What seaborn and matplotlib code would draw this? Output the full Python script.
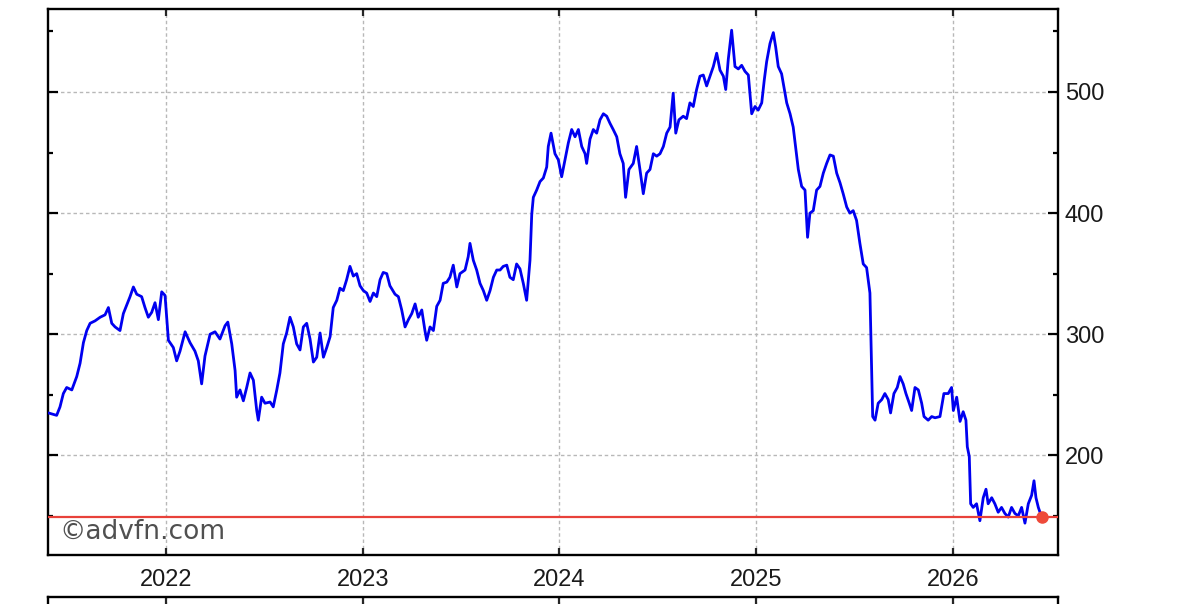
import matplotlib
matplotlib.use('Agg')
import matplotlib.pyplot as plt
import seaborn as sns
import pandas as pd
from matplotlib.ticker import FixedLocator, MultipleLocator

# ---- data (decimal year, price) ----
year_pos = [
    2021.402, 2021.444, 2021.461, 2021.478, 2021.495, 2021.521, 2021.546, 2021.563, 2021.580, 2021.597,
    2021.614, 2021.639, 2021.665, 2021.690, 2021.707, 2021.724, 2021.741, 2021.766, 2021.783, 2021.800,
    2021.817, 2021.834, 2021.851, 2021.876, 2021.893, 2021.910, 2021.927, 2021.944, 2021.961, 2021.978,
    2021.995, 2022.012, 2022.037, 2022.054, 2022.071, 2022.097, 2022.122, 2022.147, 2022.164, 2022.181,
    2022.198, 2022.224, 2022.249, 2022.274, 2022.300,
    2022.314, 2022.334, 2022.351, 2022.359, 2022.376, 2022.393, 2022.410, 2022.427, 2022.444, 2022.461,
    2022.469, 2022.486, 2022.503, 2022.529, 2022.545, 2022.563, 2022.579, 2022.596, 2022.613, 2022.630,
    2022.647, 2022.664, 2022.681, 2022.698, 2022.715, 2022.732, 2022.749, 2022.766, 2022.783, 2022.800,
    2022.817, 2022.834, 2022.850, 2022.868, 2022.884, 2022.901, 2022.918, 2022.935, 2022.952, 2022.969,
    2022.986, 2023.003, 2023.020, 2023.037, 2023.054, 2023.071, 2023.088, 2023.104, 2023.122, 2023.138,
    2023.164,
    2023.181, 2023.198, 2023.215, 2023.232, 2023.249, 2023.266, 2023.282, 2023.300, 2023.316, 2023.325,
    2023.342, 2023.359, 2023.376, 2023.393, 2023.409, 2023.427, 2023.443, 2023.460, 2023.478, 2023.494,
    2023.520, 2023.536, 2023.545, 2023.562, 2023.579, 2023.596, 2023.613, 2023.630, 2023.647, 2023.664,
    2023.681, 2023.698, 2023.714, 2023.732, 2023.748, 2023.765, 2023.782, 2023.799, 2023.816, 2023.833,
    2023.850, 2023.859, 2023.867, 2023.884, 2023.901, 2023.918, 2023.935, 2023.943, 2023.957, 2023.977,
    2023.994, 2024.011,
    2024.028, 2024.045, 2024.062, 2024.079, 2024.096, 2024.113, 2024.130, 2024.138, 2024.155, 2024.172,
    2024.189, 2024.206, 2024.223, 2024.240, 2024.257, 2024.273, 2024.291, 2024.307, 2024.324, 2024.336,
    2024.353, 2024.375, 2024.392, 2024.409, 2024.426, 2024.443, 2024.460, 2024.477, 2024.494, 2024.511,
    2024.528, 2024.545, 2024.562, 2024.578, 2024.591, 2024.607, 2024.629, 2024.646, 2024.663, 2024.680,
    2024.697, 2024.714, 2024.731, 2024.748, 2024.765, 2024.782, 2024.799, 2024.816, 2024.833, 2024.845,
    2024.858, 2024.875, 2024.892,
    2024.909, 2024.926, 2024.943, 2024.960, 2024.968, 2024.977, 2024.994, 2025.010, 2025.028, 2025.041,
    2025.053, 2025.070, 2025.087, 2025.099, 2025.112, 2025.129, 2025.143, 2025.155, 2025.172, 2025.188,
    2025.200, 2025.214, 2025.231, 2025.248, 2025.261, 2025.273, 2025.290, 2025.307, 2025.324, 2025.341,
    2025.358, 2025.375, 2025.392, 2025.409, 2025.426, 2025.442, 2025.460, 2025.476, 2025.493, 2025.510,
    2025.527, 2025.544, 2025.561,
    2025.578, 2025.592, 2025.604, 2025.620, 2025.638, 2025.654, 2025.671, 2025.683, 2025.700, 2025.717,
    2025.731, 2025.747, 2025.761, 2025.778, 2025.790, 2025.807, 2025.824, 2025.841, 2025.853, 2025.874,
    2025.892, 2025.909, 2025.934, 2025.954, 2025.976, 2025.993, 2026.002, 2026.019, 2026.036, 2026.052,
    2026.066, 2026.073, 2026.083, 2026.090, 2026.103, 2026.120, 2026.137, 2026.154, 2026.168, 2026.179,
    2026.197, 2026.213, 2026.230, 2026.247, 2026.264, 2026.281, 2026.298, 2026.315, 2026.332, 2026.349,
    2026.366, 2026.383, 2026.400, 2026.412, 2026.422, 2026.434, 2026.451,
]
price = [
    235, 233, 240, 251, 256, 254, 265, 276, 293, 303,
    309, 311, 314, 316, 322, 309, 306, 303, 317, 324,
    331, 339, 333, 331, 322, 314, 318, 326, 312, 335,
    332, 295, 289, 278, 286, 302, 293, 286, 278, 259,
    282, 300, 302, 296, 307,
    310, 292, 270, 248, 254, 245, 256, 268, 262, 237,
    229, 248, 243, 244, 240, 254, 268, 292, 301, 314,
    306, 292, 287, 306, 309, 296, 277, 281, 301, 281,
    289, 298, 322, 328, 338, 336, 345, 356, 348, 350,
    340, 336, 334, 327, 334, 331, 345, 351, 350, 340,
    333,
    331, 320, 306, 312, 317, 325, 314, 320, 303, 295,
    306, 303, 323, 328, 342, 343, 347, 357, 339, 350,
    353, 364, 375, 361, 353, 342, 336, 328, 336, 347,
    353, 353, 356, 357, 347, 345, 358, 354, 342, 328,
    361, 399, 413, 419, 426, 429, 438, 455, 466, 449,
    444, 430,
    444, 458, 469, 463, 469, 455, 449, 441, 461, 469,
    466, 477, 482, 480, 474, 469, 463, 449, 441, 413,
    436, 441, 455, 436, 416, 433, 436, 449, 447, 449,
    455, 466, 471, 499, 466, 477, 480, 478, 491, 488,
    502, 513, 514, 505, 513, 521, 532, 518, 513, 502,
    527, 551, 521,
    519, 522, 517, 514, 499, 482, 488, 485, 491, 510,
    525, 540, 549, 537, 521, 515, 502, 491, 482, 471,
    455, 436, 422, 419, 380, 400, 402, 419, 422, 433,
    441, 448, 447, 433, 425, 416, 405, 400, 402, 394,
    375, 358, 355,
    334, 232, 229, 243, 246, 251, 246, 235, 251, 256,
    265, 259, 251, 243, 237, 256, 254, 243, 232, 229,
    232, 231, 232, 251, 251, 256, 237, 248, 228, 236,
    229, 207, 199, 160, 157, 160, 146, 165, 172, 160,
    165, 160, 153, 157, 152, 149, 157, 152, 150, 157,
    144, 160, 167, 179, 165, 157, 149,
]
year_ticks = [2022, 2023, 2024, 2025, 2026]
price_ticks = [200, 300, 400, 500]
watermark = "\u00a9advfn.com"

sns.set_theme(style='white')
plt.rcParams['font.family'] = ['Liberation Sans', 'DejaVu Sans']

W, H = 1200, 604
fig = plt.figure(figsize=(12, 6.04), dpi=100, facecolor='white')
L, R, T, B = 48, 1058, 9, 555
ax = fig.add_axes([L / W, 1 - B / H, (R - L) / W, (B - T) / H])

df = pd.DataFrame({'t': year_pos, 'p': price})
sns.lineplot(data=df, x='t', y='p', ax=ax, color='#0000f0', linewidth=2.0,
             estimator=None, zorder=3)

last_t, last_p = year_pos[-1], price[-1]
ax.axhline(last_p, color='#e8413a', linewidth=1.6, zorder=4)
ax.plot([last_t], [last_p], 'o', color='#ee4a3a', markersize=8, zorder=5)

ax.set_xlim(2021.400, 2026.534)
ax.set_ylim(117.7, 568.5)
ax.set_xticks(year_ticks)
ax.set_xticklabels([str(y) for y in year_ticks])
ax.yaxis.set_major_locator(FixedLocator(price_ticks))
ax.yaxis.set_minor_locator(MultipleLocator(50))
ax.tick_params(axis='y', which='both', direction='in', left=True, right=True,
               labelleft=False, labelright=True, labelsize=17, pad=5,
               colors='black', labelcolor='#1a1a1a')
ax.tick_params(axis='y', which='major', length=7, width=1.6)
ax.tick_params(axis='y', which='minor', length=3.5, width=1.6)
ax.tick_params(axis='x', which='major', direction='in', top=True, bottom=True,
               length=5, width=1.6, labelsize=17, pad=10, labelcolor='#1a1a1a')
ax.grid(True, which='major', color='#b8b8b8', linestyle=(0, (2.5, 2)), linewidth=1.0)
ax.set_axisbelow(True)
for s in ax.spines.values():
    s.set_visible(True)
    s.set_color('black')
    s.set_linewidth(1.7)
ax.set_xlabel('')
ax.set_ylabel('')

ax.text((59 - L) / (R - L), (B - 532) / (B - T), watermark, transform=ax.transAxes,
        fontsize=19, color='#505050', family='DejaVu Sans', va='center', ha='left',
        zorder=6)

# start of the lower (volume) panel, cut by the figure edge
top2 = 597
ax2 = fig.add_axes([L / W, -0.3, (R - L) / W, 0.3 + (1 - top2 / H)])
ax2.set_xlim(2021.400, 2026.534)
ax2.set_xticks(year_ticks)
ax2.set_xticklabels([])
ax2.set_yticks([])
ax2.tick_params(axis='x', direction='in', top=True, bottom=False, length=5, width=1.6)
ax2.grid(True, axis='x', color='#b8b8b8', linestyle=(0, (2.5, 2)), linewidth=1.0)
for s in ax2.spines.values():
    s.set_visible(True)
    s.set_color('black')
    s.set_linewidth(1.7)

fig.savefig('out.png', dpi=100, facecolor='white')
